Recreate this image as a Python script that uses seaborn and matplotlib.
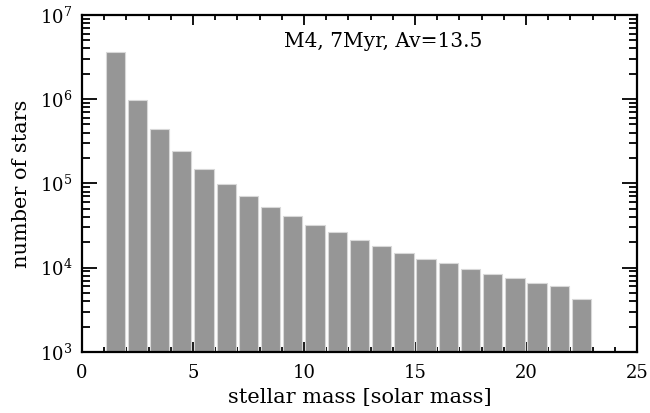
import matplotlib
matplotlib.use("Agg")
import matplotlib.pyplot as plt
import matplotlib.ticker as mticker
import seaborn as sns

# ── Data ──────────────────────────────────────────────────────────────────────
mass_centers = [1.5, 2.5, 3.5, 4.5, 5.5, 6.5, 7.5, 8.5, 9.5, 10.5, 11.5,
                12.5, 13.5, 14.5, 15.5, 16.5, 17.5, 18.5, 19.5, 20.5, 21.5, 22.5]
star_counts = [3.6e6, 9.8e5, 4.4e5, 2.44e5, 1.48e5, 9.9e4, 7.1e4, 5.3e4, 4.1e4,
               3.23e4, 2.62e4, 2.12e4, 1.80e4, 1.50e4, 1.28e4, 1.12e4, 9.7e3,
               8.5e3, 7.5e3, 6.6e3, 6.05e3, 4.28e3]
label_text = "M4, 7Myr, Av=13.5"

# ── Plot ──────────────────────────────────────────────────────────────────────
sns.set_theme(style="ticks")
plt.rcParams['font.family'] = ['DejaVu Serif']
plt.rcParams['mathtext.fontset'] = 'dejavuserif'

fig = plt.figure(figsize=(6.5, 4.13), dpi=100)
ax = fig.add_axes([0.126, 0.148, 0.854, 0.816])

sns.barplot(x=mass_centers, y=star_counts, native_scale=True, width=0.87,
            color='#969696', saturation=1, edgecolor='#d8d8d8', linewidth=0.8,
            ax=ax, zorder=2)
ax.set_yscale('log')

ax.set_xlim(0, 25)
ax.set_ylim(1e3, 1e7)
ax.xaxis.set_major_locator(mticker.MultipleLocator(5))
ax.xaxis.set_minor_locator(mticker.MultipleLocator(1))
ax.xaxis.set_major_formatter(mticker.FormatStrFormatter('%d'))
ax.yaxis.set_major_locator(mticker.LogLocator(base=10, numticks=10))
ax.yaxis.set_minor_locator(mticker.LogLocator(base=10, subs=range(2, 10), numticks=20))
ax.yaxis.set_minor_formatter(mticker.NullFormatter())

for side in ax.spines.values():
    side.set_color('black')
    side.set_linewidth(1.6)
ax.tick_params(which='both', direction='in', top=True, right=True, colors='black',
               labelsize=13, width=1.3)
ax.tick_params(axis='x', which='major', length=7, pad=9)
ax.tick_params(axis='x', which='minor', length=3.5)
ax.tick_params(axis='y', which='major', length=11, pad=7)
ax.tick_params(axis='y', which='minor', length=6)

ax.set_xlabel('stellar mass [solar mass]', fontsize=15, color='black', labelpad=4)
ax.set_ylabel('number of stars', fontsize=15, color='black', labelpad=6)
ax.text(0.542, 0.92, label_text, transform=ax.transAxes, ha='center', va='center',
        fontsize=14.5, color='black')

plt.savefig('out.png', dpi=100)
